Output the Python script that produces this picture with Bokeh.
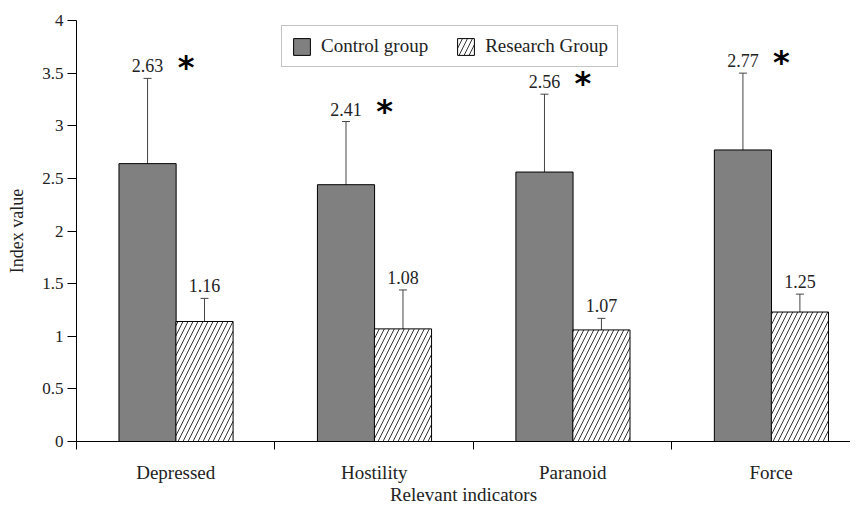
import numpy as np
from bokeh.plotting import figure
from bokeh.models import (ColumnDataSource, Whisker, TeeHead, FixedTicker, LinearAxis,
                          Legend, LegendItem, Range1d)
from bokeh.core.properties import value
from bokeh.embed import file_html
from bokeh.resources import INLINE

categories = ["Depressed", "Hostility", "Paranoid", "Force"]
control = [2.64, 2.44, 2.56, 2.77]
control_labels = ["2.63", "2.41", "2.56", "2.77"]
control_err_hi = [3.45, 3.04, 3.30, 3.50]
control_err_lo = [1.82, 1.79, 1.82, 2.01]
research = [1.14, 1.07, 1.06, 1.23]
research_labels = ["1.16", "1.08", "1.07", "1.25"]
research_err_hi = [1.36, 1.44, 1.17, 1.40]
research_err_lo = [0.93, 0.69, 0.93, 1.08]
significance = ["*", "*", "*", "*"]
y_ticks = [0, 0.5, 1, 1.5, 2, 2.5, 3, 3.5, 4]
y_tick_labels = ["0", "0.5", "1", "1.5", "2", "2.5", "3", "3.5", "4"]

FONT = "'Liberation Serif', 'Times New Roman', serif"
idx = np.arange(len(categories))
BW = 0.288

src_c = ColumnDataSource(dict(x=idx + 0.358, top=control, hi=control_err_hi,
                              lo=control_err_lo, lab=control_labels,
                              sx=idx + 0.552, star=significance))
src_r = ColumnDataSource(dict(x=idx + 0.645, top=research, hi=research_err_hi,
                              lo=research_err_lo, lab=research_labels))

p = figure(width=850, height=507, x_range=Range1d(0, 3.9), y_range=Range1d(0, 4),
           output_backend="svg", toolbar_location=None, x_axis_location=None,
           min_border_left=76, min_border_right=0, min_border_top=20,
           min_border_bottom=66)
p.outline_line_color = None
p.grid.visible = False
p.background_fill_color = "white"

rc = p.vbar(x="x", top="top", width=BW, source=src_c, fill_color="#808080",
            line_color="black", line_width=1)
rr = p.vbar(x="x", top="top", width=BW, source=src_r, fill_color="white",
            line_color="black", line_width=1, hatch_pattern="/",
            hatch_scale=10, hatch_weight=1, hatch_color="#333333")

for s in (src_c, src_r):
    w = Whisker(base="x", upper="hi", lower="lo", source=s, line_color="#444444",
                line_width=1,
                upper_head=TeeHead(size=8, line_color="#444444", line_width=1),
                lower_head=TeeHead(size=8, line_color="#444444", line_width=1))
    p.add_layout(w)
    p.text(x="x", y="hi", text="lab", source=s, text_align="center",
           text_baseline="bottom", y_offset=-6, text_font=value(FONT),
           text_font_size="18px", text_color="#222222")

p.text(x="sx", y="hi", text="star", source=src_c, text_align="center",
       text_baseline="middle", y_offset=-11, text_font=value("DejaVu Sans"),
       text_font_style="bold", text_font_size="32px", text_color="black")

# y axis
ya = p.yaxis[0]
ya.ticker = FixedTicker(ticks=y_ticks, minor_ticks=[])
ya.major_label_overrides = {t: l for t, l in zip(y_ticks, y_tick_labels)}
ya.major_tick_out = 9
ya.major_tick_in = 0
ya.axis_line_color = "black"
ya.major_tick_line_color = "black"
ya.major_label_text_font = FONT
ya.major_label_text_font_size = "17px"
ya.major_label_text_color = "#222222"
ya.major_label_standoff = 4
ya.axis_label = "Index value"
ya.axis_label_text_font = FONT
ya.axis_label_text_font_size = "18px"
ya.axis_label_text_font_style = "normal"
ya.axis_label_text_color = "#222222"
ya.axis_label_standoff = 12

# x axis
centers = [float(i) + 0.5 for i in idx]
xa = LinearAxis(ticker=FixedTicker(ticks=centers, minor_ticks=[float(i) for i in idx]))
xa.major_label_overrides = {c: l for c, l in zip(centers, categories)}
xa.major_tick_out = 0
xa.major_tick_in = 0
xa.minor_tick_out = 8
xa.minor_tick_in = 0
xa.minor_tick_line_color = "black"
xa.axis_line_color = "black"
xa.major_label_text_font = FONT
xa.major_label_text_font_size = "19px"
xa.major_label_text_color = "#222222"
xa.major_label_standoff = 12
xa.axis_label = "Relevant indicators"
xa.axis_label_text_font = FONT
xa.axis_label_text_font_size = "19px"
xa.axis_label_text_font_style = "normal"
xa.axis_label_text_color = "#222222"
xa.axis_label_standoff = -2
p.add_layout(xa, "below")

legend = Legend(items=[LegendItem(label="Control group", renderers=[rc]),
                       LegendItem(label="Research Group", renderers=[rr])],
                orientation="horizontal", location=(205, 374),
                glyph_width=21, glyph_height=21, label_standoff=9, spacing=27,
                padding=9, margin=0,
                label_text_font=FONT, label_text_font_size="19px",
                label_text_color="#222222",
                border_line_color="#888888", border_line_width=1,
                background_fill_color="white", background_fill_alpha=1)
p.add_layout(legend, "center")

open("out.html", "w").write(file_html(p, INLINE))
